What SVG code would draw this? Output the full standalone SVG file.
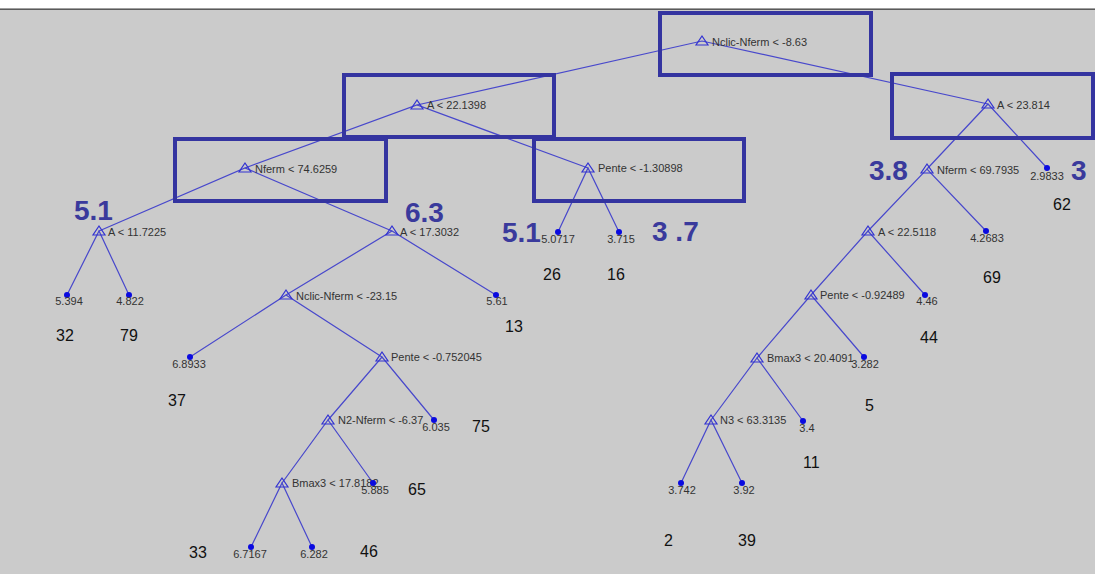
<svg xmlns="http://www.w3.org/2000/svg" width="1095" height="574" viewBox="0 0 1095 574">
<style>
.bg{fill:#cbcbcb}
.e{stroke:#4848cc;stroke-width:1.2;fill:none}
.tri{fill:none;stroke:#3232d2;stroke-width:1.2}
.dot{fill:#0a0ae0}
.lbl{font-family:"Liberation Sans",Arial,sans-serif;font-size:11px;fill:#333}
.lv{font-family:"Liberation Sans",Arial,sans-serif;font-size:11px;fill:#333;text-anchor:middle}
.cnt{font-family:"Liberation Sans",Arial,sans-serif;font-size:16px;fill:#111}
.big{font-family:"Liberation Sans",Arial,sans-serif;font-size:28px;font-weight:bold;fill:#3a3a9c}
.box{fill:none;stroke:#3434a0;stroke-width:4}
</style>
<defs>
<path id="t" d="M0,-5 L6,4 L-6,4 Z"/>
</defs>
<rect class="bg" x="0" y="0" width="1095" height="574"/>
<rect x="0" y="0" width="1095" height="8.5" fill="#ffffff"/>
<rect x="0" y="8.5" width="1095" height="1.5" fill="#5a5a5a"/>

<g id="connectors">
<polyline class="e" points="417,105 702,41 988,104"/>
<polyline class="e" points="245,168 417,105 588,168"/>
<polyline class="e" points="927,169 988,104 1047,168"/>
<polyline class="e" points="99,231 245,168 392,231"/>
<polyline class="e" points="558,232 588,168 619,232"/>
<polyline class="e" points="868,231 927,169 986,231"/>
<polyline class="e" points="67,295 99,231 129,295"/>
<polyline class="e" points="286,295 392,231 496,295"/>
<polyline class="e" points="811,295 868,231 925,295"/>
<polyline class="e" points="190,357 286,295 382,357"/>
<polyline class="e" points="757,358 811,295 864,357"/>
<polyline class="e" points="328,420 382,357 434,420"/>
<polyline class="e" points="711,420 757,358 803,421"/>
<polyline class="e" points="282,483 328,420 373,483"/>
<polyline class="e" points="681,483 711,420 742,483"/>
<polyline class="e" points="251,547 282,483 312,547"/>
</g>

<g id="n-root"><use href="#t" class="tri" x="702" y="41"/><text class="lbl" x="712" y="46">Nclic-Nferm &lt; -8.63</text></g>
<g id="n-a22"><use href="#t" class="tri" x="417" y="105"/><text class="lbl" x="427" y="109">A &lt; 22.1398</text></g>
<g id="n-a23"><use href="#t" class="tri" x="988" y="104"/><text class="lbl" x="997" y="109">A &lt; 23.814</text></g>
<g id="n-nferm74"><use href="#t" class="tri" x="245" y="168"/><text class="lbl" x="255" y="173">Nferm &lt; 74.6259</text></g>
<g id="n-pente13"><use href="#t" class="tri" x="588" y="168"/><text class="lbl" x="598" y="172">Pente &lt; -1.30898</text></g>
<g id="n-nferm69"><use href="#t" class="tri" x="927" y="169"/><text class="lbl" x="937" y="174">Nferm &lt; 69.7935</text></g>
<g id="n-a11"><use href="#t" class="tri" x="99" y="231"/><text class="lbl" x="108" y="236">A &lt; 11.7225</text></g>
<g id="n-a17"><use href="#t" class="tri" x="392" y="231"/><text class="lbl" x="400" y="236">A &lt; 17.3032</text></g>
<g id="n-a225"><use href="#t" class="tri" x="868" y="231"/><text class="lbl" x="878" y="236">A &lt; 22.5118</text></g>
<g id="n-nclic23"><use href="#t" class="tri" x="286" y="295"/><text class="lbl" x="296" y="300">Nclic-Nferm &lt; -23.15</text></g>
<g id="n-pente092"><use href="#t" class="tri" x="811" y="295"/><text class="lbl" x="820" y="299">Pente &lt; -0.92489</text></g>
<g id="n-pente075"><use href="#t" class="tri" x="382" y="357"/><text class="lbl" x="391" y="361">Pente &lt; -0.752045</text></g>
<g id="n-bmax20"><use href="#t" class="tri" x="757" y="358"/><text class="lbl" x="767" y="362">Bmax3 &lt; 20.4091</text></g>
<g id="n-n2"><use href="#t" class="tri" x="328" y="420"/><text class="lbl" x="338" y="424">N2-Nferm &lt; -6.37</text></g>
<g id="n-n3"><use href="#t" class="tri" x="711" y="420"/><text class="lbl" x="720" y="424">N3 &lt; 63.3135</text></g>
<g id="n-bmax17"><use href="#t" class="tri" x="282" y="483"/><text class="lbl" x="292" y="487">Bmax3 &lt; 17.8182</text></g>

<g id="l-2.9833"><circle class="dot" cx="1047" cy="168" r="3"/><text class="lv" x="1047" y="180">2.9833</text></g>
<g id="l-5.0717"><circle class="dot" cx="558" cy="232" r="3"/><text class="lv" x="558" y="243">5.0717</text></g>
<g id="l-3.715"><circle class="dot" cx="619" cy="232" r="3"/><text class="lv" x="621" y="243">3.715</text></g>
<g id="l-4.2683"><circle class="dot" cx="986" cy="231" r="3"/><text class="lv" x="987" y="242">4.2683</text></g>
<g id="l-5.394"><circle class="dot" cx="67" cy="295" r="3"/><text class="lv" x="69" y="305">5.394</text></g>
<g id="l-4.822"><circle class="dot" cx="129" cy="295" r="3"/><text class="lv" x="130" y="305">4.822</text></g>
<g id="l-5.61"><circle class="dot" cx="496" cy="295" r="3"/><text class="lv" x="497" y="305">5.61</text></g>
<g id="l-4.46"><circle class="dot" cx="925" cy="295" r="3"/><text class="lv" x="927" y="305">4.46</text></g>
<g id="l-6.8933"><circle class="dot" cx="190" cy="357" r="3"/><text class="lv" x="189" y="368">6.8933</text></g>
<g id="l-3.282"><circle class="dot" cx="864" cy="357" r="3"/><text class="lv" x="865" y="368">3.282</text></g>
<g id="l-6.035"><circle class="dot" cx="434" cy="420" r="3"/><text class="lv" x="436" y="431">6.035</text></g>
<g id="l-3.4"><circle class="dot" cx="803" cy="421" r="3"/><text class="lv" x="807" y="432">3.4</text></g>
<g id="l-5.885"><circle class="dot" cx="373" cy="483" r="3"/><text class="lv" x="375" y="494">5.885</text></g>
<g id="l-3.742"><circle class="dot" cx="681" cy="483" r="3"/><text class="lv" x="682" y="494">3.742</text></g>
<g id="l-3.92"><circle class="dot" cx="742" cy="483" r="3"/><text class="lv" x="744" y="494">3.92</text></g>
<g id="l-6.7167"><circle class="dot" cx="251" cy="547" r="3"/><text class="lv" x="250" y="558">6.7167</text></g>
<g id="l-6.282"><circle class="dot" cx="312" cy="547" r="3"/><text class="lv" x="314" y="558">6.282</text></g>

<g id="counts">
<text class="cnt" x="56" y="341">32</text>
<text class="cnt" x="120" y="341">79</text>
<text class="cnt" x="505" y="332">13</text>
<text class="cnt" x="168" y="406">37</text>
<text class="cnt" x="472" y="432">75</text>
<text class="cnt" x="408" y="495">65</text>
<text class="cnt" x="189" y="558">33</text>
<text class="cnt" x="360" y="557">46</text>
<text class="cnt" x="543" y="280">26</text>
<text class="cnt" x="607" y="280">16</text>
<text class="cnt" x="1053" y="210">62</text>
<text class="cnt" x="983" y="283">69</text>
<text class="cnt" x="920" y="343">44</text>
<text class="cnt" x="865" y="411">5</text>
<text class="cnt" x="803" y="468">11</text>
<text class="cnt" x="664" y="546">2</text>
<text class="cnt" x="738" y="546">39</text>
</g>

<g id="highlights">
<rect class="box" x="660" y="13" width="211" height="62"/>
<rect class="box" x="344" y="75" width="210" height="62"/>
<rect class="box" x="892" y="74" width="201" height="64"/>
<rect class="box" x="175" y="139" width="211" height="62"/>
<rect class="box" x="534" y="139" width="210" height="62"/>
<text class="big" x="74" y="220">5.1</text>
<text class="big" x="405" y="222">6.3</text>
<text class="big" x="502" y="242">5.1</text>
<text class="big" x="652" y="241">3 .7</text>
<text class="big" x="869" y="180">3.8</text>
<text class="big" x="1071" y="180">3</text>
</g>
</svg>
